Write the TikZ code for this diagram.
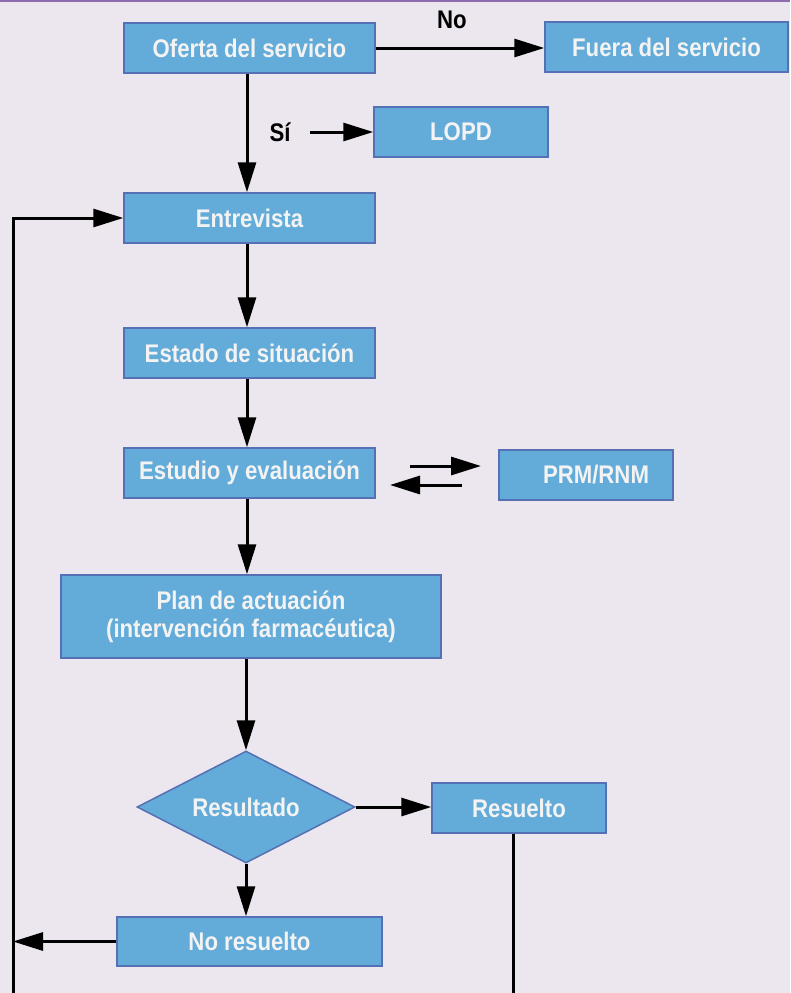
\documentclass[tikz,border=0pt]{standalone}
\usepackage{fontspec}
\setmainfont[FakeStretch=0.87]{Liberation Sans}
\usetikzlibrary{shapes.geometric,arrows.meta}
\definecolor{bgc}{HTML}{ECE7EE}
\definecolor{topline}{HTML}{8E6CB0}
\definecolor{boxfill}{HTML}{63ABD8}
\definecolor{boxline}{HTML}{5570B5}
\definecolor{boxtext}{HTML}{F3F3F3}
\tikzset{
  box/.style={draw=boxline, line width=1.5pt, fill=boxfill, text=boxtext,
    font=\fontsize{25.5}{28}\selectfont\bfseries, inner sep=0pt, align=center},
  decision/.style={box, diamond, aspect=2},
  lbl/.style={text=black, font=\fontsize{25.5}{28}\selectfont\bfseries, inner sep=0pt},
  flow/.style={line width=3pt, -{Triangle[length=30pt,width=18pt]}},
  plain/.style={line width=3pt}
}
\begin{document}
\begin{tikzpicture}[x=1pt,y=-1pt]
\fill[bgc] (0,0) rectangle (790,993);
\useasboundingbox (0,0) rectangle (790,993);
\draw[topline, line width=2pt] (0,1) -- (790,1);

\node[box, minimum width=251pt, minimum height=50pt] (oferta) at (249.5,48) {Oferta del servicio};
\node[box, minimum width=243pt, minimum height=50pt] (fuera) at (666.5,47) {Fuera del servicio};
\node[box, minimum width=174pt, minimum height=50pt] (lopd) at (461,132) {LOPD};
\node[box, minimum width=251pt, minimum height=50pt] (entrevista) at (249.5,218) {Entrevista};
\node[box, minimum width=251pt, minimum height=50pt] (estado) at (249.5,353) {Estado de situación};
\node[box, minimum width=251pt, minimum height=50pt] (estudio) at (249.5,473) {Estudio y evaluación};
\node[box, minimum width=174pt, minimum height=50pt] (prm) at (586,475) {\hspace*{20pt}PRM/RNM};
\node[box, minimum width=380pt, minimum height=83pt] (plan) at (251,616.5) {Plan de actuación\\(intervención farmacéutica)};
\node[decision, minimum width=218pt, minimum height=112pt] (resultado) at (246,807) {Resultado};
\node[box, minimum width=174pt, minimum height=50pt] (resuelto) at (519,808) {Resuelto};
\node[box, minimum width=265pt, minimum height=49pt] (noresuelto) at (249.5,941.5) {No resuelto};

\node[lbl] (no) at (452,20) {No};
\node[lbl] (si) at (280,132) {Sí};

\coordinate (axis) at (247,0);
\coordinate (sistart) at (310,132);
\coordinate (loopbot) at (13,1000);
\coordinate (p1s) at (410,466);
\coordinate (p1e) at (481,466);
\coordinate (p2s) at (462,485);
\coordinate (p2e) at (390,485);

\draw[flow] (oferta.east) -- (fuera.west |- oferta.east);
\draw[flow] (sistart) -- (lopd.west);
\draw[flow] (oferta.south -| axis) -- (entrevista.north -| axis);
\draw[flow] (entrevista.south -| axis) -- (estado.north -| axis);
\draw[flow] (estado.south -| axis) -- (estudio.north -| axis);
\draw[flow] (estudio.south -| axis) -- (plan.north -| axis);
\draw[flow] (plan.south -| resultado.north) -- (resultado.north);
\draw[flow] (resultado.south) -- (resultado.south |- noresuelto.north);
\draw[flow] (resultado.east) -- (resuelto.west |- resultado.east);
\draw[flow] (p1s) -- (p1e);
\draw[flow] (p2s) -- (p2e);
\draw[flow] (noresuelto.west) -- (noresuelto.west -| loopbot);
\draw[plain] ([xshift=-5.5pt]resuelto.south) -- ([xshift=-5.5pt]resuelto.south |- loopbot);
\draw[flow] (loopbot) |- (entrevista.west);
\end{tikzpicture}
\end{document}
